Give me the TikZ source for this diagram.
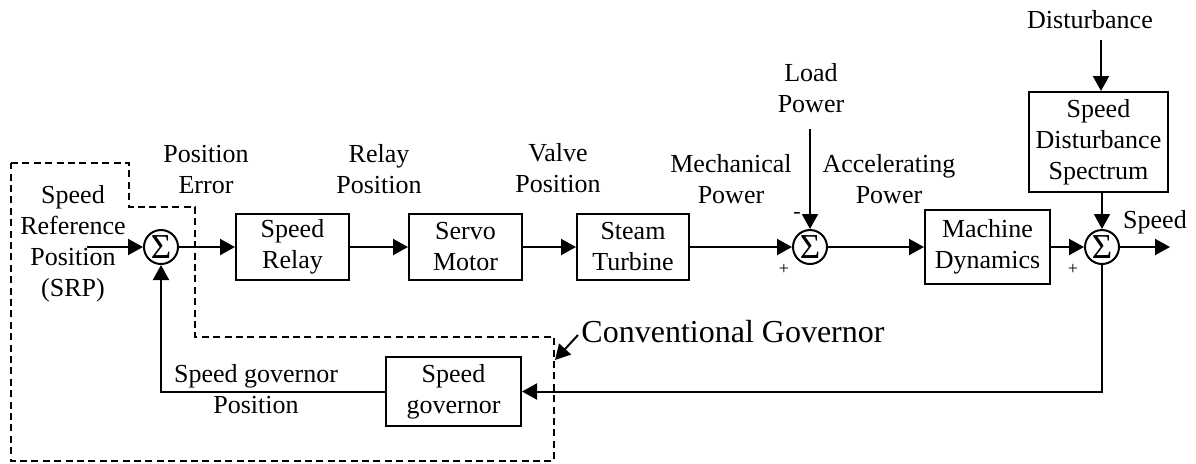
\documentclass[tikz,border=0pt]{standalone}
\usepackage{fontspec}
\setmainfont{Liberation Serif}
\usetikzlibrary{arrows.meta}
\begin{document}
\begin{tikzpicture}[x=0.5pt,y=-0.5pt,
  every node/.style={font=\fontsize{13}{15.5}\selectfont, inner sep=0pt, align=center},
  blk/.style={draw, line width=1pt},
  sumc/.style={draw, circle, line width=1pt, minimum size=17pt, inner sep=0pt, font=\fontsize{17.5}{17.5}\selectfont},
  con/.style={line width=1pt, -{Triangle[length=7.5pt,width=8pt]}},
  plain/.style={line width=1pt},
  govline/.style={line width=0.7pt, dash pattern=on 3.5pt off 2.2pt},
  sign/.style={font=\fontsize{9}{9}\selectfont}
]
\useasboundingbox (0,0) rectangle (1196,463);

% blocks
\node[blk, minimum width=56.5pt, minimum height=33pt] (relay) at (292.5,247) {Speed\\Relay};
\node[blk, minimum width=56.5pt, minimum height=33pt] (servo) at (465.5,247) {Servo\\Motor};
\node[blk, minimum width=56pt, minimum height=33pt] (turb) at (633,247) {Steam\\Turbine};
\node[blk, minimum width=62.5pt, minimum height=37pt] (md) at (987.5,247) {Machine\\Dynamics};
\node[blk, minimum width=69.5pt, minimum height=50pt] (sds) at (1098.5,142) {Speed\\Disturbance\\Spectrum};
\node[blk, minimum width=67.5pt, minimum height=34.5pt] (sg) at (453.5,391.5) {Speed\\governor};

% summing junctions
\node[sumc] (s1) at (161,247) {Σ};
\node[sumc] (s2) at (810,247) {Σ};
\node[sumc] (s3) at (1102,247) {Σ};

% free ends
\coordinate (in) at (87,247);
\coordinate (out) at (1170,247);
\coordinate (lpin) at (810,129);
\coordinate (distin) at (1101,40);
\coordinate (cgtail) at (578,335);
\coordinate (cgtip) at (555,360);

% connectors
\draw[con] (in) -- (s1);
\draw[con] (s1) -- (relay);
\draw[con] (relay) -- (servo);
\draw[con] (servo) -- (turb);
\draw[con] (turb) -- (s2);
\draw[con] (s2) -- (md);
\draw[con] (md) -- (s3);
\draw[con] (s3) -- (out);
\draw[con] (lpin) -- (s2);
\draw[con] (distin) -- (distin |- sds.north);
\draw[con] (sds.south -| s3) -- (s3);
\draw[con] (s3.south) |- (sg.east);
\draw[con] (sg.west) -| (s1.south);
\draw[con] (cgtail) -- (cgtip);

% governor boundary
\draw[govline] (11,163) -- (129,163) -- (129,207) -- (195,207) -- (195,337)
  -- (554,337) -- (554,461) -- (11,461) -- cycle;

% labels
\node (lsrp) at (73,244) {Speed\\Reference\\Position\\(SRP)};
\node (lpe) at (206,170) {Position\\Error};
\node (lrp) at (379,169) {Relay\\Position};
\node (lvp) at (558,168) {Valve\\Position};
\node (lmp) at (731,179) {Mechanical\\Power};
\node (llp) at (811,88) {Load\\Power};
\node (lap) at (889,179) {Accelerating\\Power};
\node (ldist) at (1090,20) {Disturbance};
\node (lspeed) at (1155,222) {Speed};
\node (lsgp) at (256,389) {Speed governor\\Position};
\node[sign, font=\fontsize{11}{11}\selectfont] (m2) at (797,215) {-};
\node[sign] (p2) at (784,269) {+};
\node[sign] (p3) at (1073,269) {+};
\node[font=\fontsize{16}{16}\selectfont] (cg) at (733,332) {Conventional Governor};
\end{tikzpicture}
\end{document}
